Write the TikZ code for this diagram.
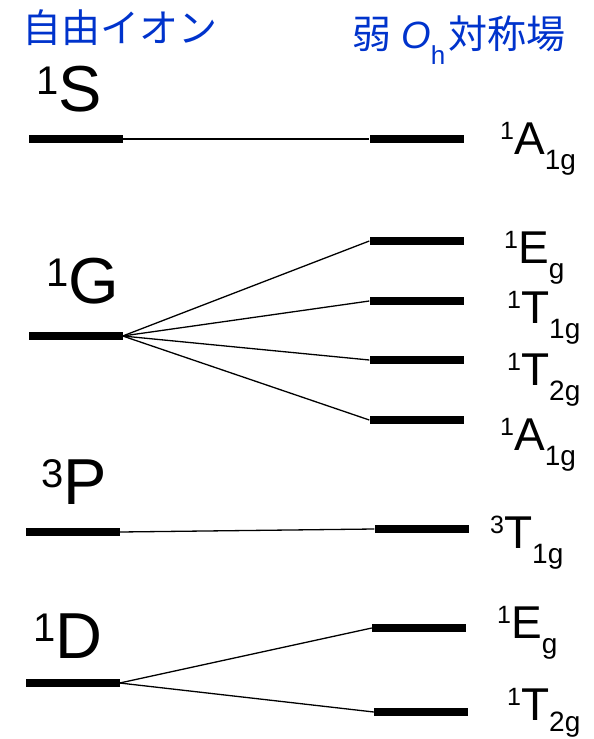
\documentclass[tikz,border=0pt]{standalone}
\usepackage{fontspec}
\setmainfont{Liberation Sans}
\newfontfamily\jpfont{Noto Sans CJK JP}
\newfontfamily\latinfont{Liberation Sans}
\definecolor{titleblue}{RGB}{0,51,204}
\newcommand{\rterm}[4][15pt]{\raisebox{15pt}{\fontsize{25}{25}\selectfont #2}{\fontsize{46}{46}\selectfont #3}\raisebox{-#1}{\fontsize{28}{28}\selectfont #4}}
\newcommand{\lterm}[2]{\raisebox{17pt}{\fontsize{40}{40}\selectfont #1}{\fontsize{65}{65}\selectfont #2}}
\tikzset{
  bar/.style={fill=black, draw=none, inner sep=0pt, minimum width=94pt, minimum height=8.5pt},
  conn/.style={line width=1.3pt},
  lbl/.style={anchor=base west, inner sep=0pt},
  ttl/.style={anchor=base west, inner sep=0pt, text=titleblue, font=\jpfont\fontsize{39}{39}\selectfont}
}
\begin{document}
\begin{tikzpicture}[x=1pt,y=-1pt]
\useasboundingbox (0,0) rectangle (594,739);
% titles
\node[ttl] (t1) at (22,42) {自由イオン};
\node[ttl] (t2) at (352,48) {弱\hspace{10pt}{\latinfont\itshape\fontsize{38}{38}\selectfont O}\raisebox{-16pt}{\latinfont\fontsize{26}{26}\selectfont h}\hspace{3pt}対称場};
% free ion bars
\node[bar] (L1S) at (75.5,139) {};
\node[bar] (L1G) at (75.5,336) {};
\node[bar] (L3P) at (72.5,532) {};
\node[bar] (L1D) at (72.5,683) {};
% field bars
\node[bar] (R1) at (416.5,139) {};
\node[bar] (R2) at (416.5,241) {};
\node[bar] (R3) at (416.5,301) {};
\node[bar] (R4) at (416.5,360) {};
\node[bar] (R5) at (416.5,420) {};
\node[bar] (R6) at (421.5,529) {};
\node[bar] (R7) at (419,628) {};
\node[bar] (R8) at (421,712) {};
% connectors
\draw[conn] (L1S.east) -- (R1.west);
\draw[conn] (L1G.east) -- (R2.west);
\draw[conn] (L1G.east) -- (R3.west);
\draw[conn] (L1G.east) -- (R4.west);
\draw[conn] (L1G.east) -- (R5.west);
\draw[conn] (L3P.east) -- (R6.west);
\draw[conn] (L1D.east) -- (R7.west);
\draw[conn] (L1D.east) -- (R8.west);
% free ion labels
\node[lbl] (l1) at (36,111) {\lterm{1}{S}};
\node[lbl] (l2) at (46,303) {\lterm{1}{G}};
\node[lbl] (l3) at (41,504) {\lterm{3}{P}};
\node[lbl] (l4) at (33,658) {\lterm{1}{D}};
% field labels
\node[lbl] (r1) at (500,154) {\rterm{1}{A}{1g}};
\node[lbl] (r2) at (504,263) {\rterm{1}{E}{g}};
\node[lbl] (r3) at (507,323) {\rterm{1}{T}{1g}};
\node[lbl] (r4) at (507,385) {\rterm{1}{T}{2g}};
\node[lbl] (r5) at (500,450) {\rterm{1}{A}{1g}};
\node[lbl] (r6) at (490,548) {\rterm{3}{T}{1g}};
\node[lbl] (r7) at (497,638) {\rterm{1}{E}{g}};
\node[lbl] (r8) at (507,720) {\rterm[11pt]{1}{T}{2g}};
\end{tikzpicture}
\end{document}
